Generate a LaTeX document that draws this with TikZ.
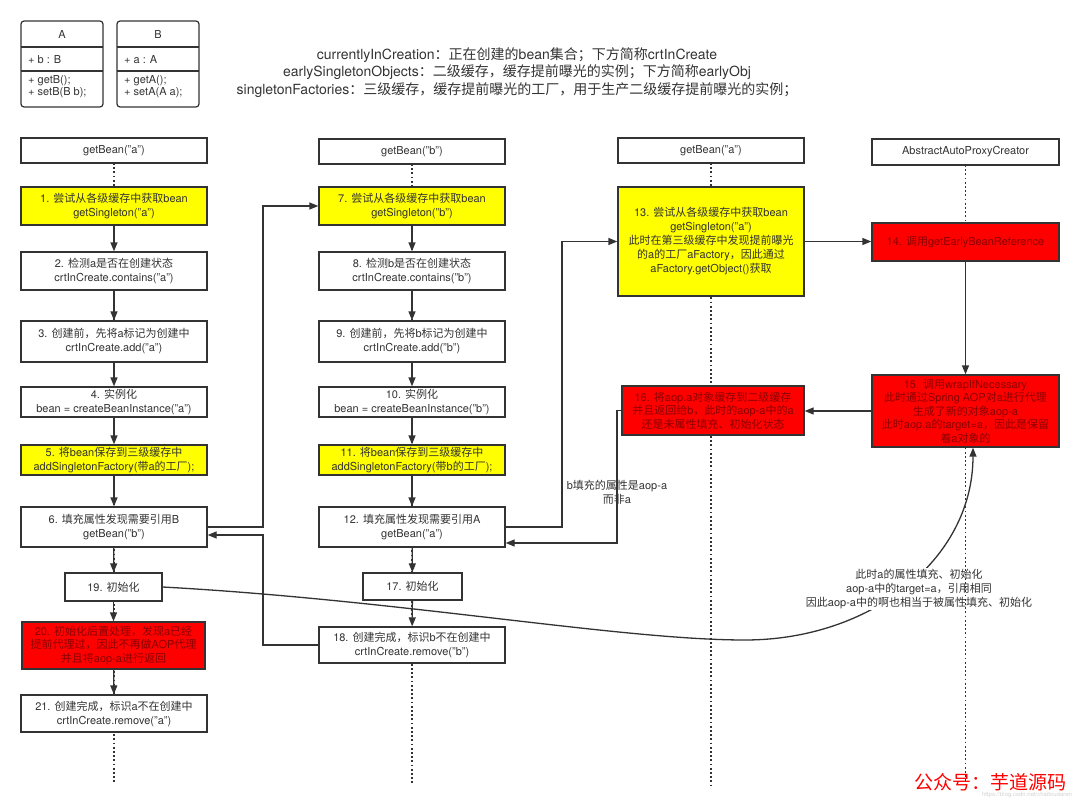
\documentclass[tikz,border=0pt]{standalone}
\usepackage{fontspec}
\setmainfont{TeX Gyre Heros}
\newfontfamily\latinfont{TeX Gyre Heros}
\newfontfamily\cjkfont{Noto Sans CJK SC}
\usetikzlibrary{arrows.meta}
\XeTeXinterchartokenstate=1
\ifdefined\newXeTeXintercharclass
  \newXeTeXintercharclass\cjkcls
\else
  \chardef\cjkcls=10
\fi
\newcount\cjkcnt
\cjkcnt="3000
\loop
  \XeTeXcharclass\cjkcnt=\cjkcls
  \advance\cjkcnt by 1
\ifnum\cjkcnt<"3040 \repeat
\cjkcnt="4E00
\loop
  \XeTeXcharclass\cjkcnt=\cjkcls
  \advance\cjkcnt by 1
\ifnum\cjkcnt<"A000 \repeat
\cjkcnt="FF00
\loop
  \XeTeXcharclass\cjkcnt=\cjkcls
  \advance\cjkcnt by 1
\ifnum\cjkcnt<"FFF0 \repeat
\XeTeXinterchartoks 0 \cjkcls={\cjkfont}
\XeTeXinterchartoks 4095 \cjkcls={\cjkfont}
\XeTeXinterchartoks \cjkcls 0={\latinfont}
\XeTeXinterchartoks \cjkcls 4095={\latinfont}

\definecolor{linec}{HTML}{333333}
\definecolor{txtc}{HTML}{333333}
\definecolor{yel}{HTML}{FFFF00}
\definecolor{redf}{HTML}{FF0000}
\definecolor{redtxt}{HTML}{8A0000}
\newcommand\boxfnt{\fontsize{11}{14}\selectfont}
\newcommand\tightfnt{\fontsize{11}{13.5}\selectfont}
\newcommand\umlfnt{\fontsize{11}{12.5}\selectfont}

\begin{document}
\begin{tikzpicture}[x=1pt,y=-1pt,
  box/.style={draw=linec, line width=1.3pt, fill=white, text=txtc, align=center,
    font=\boxfnt, inner sep=1pt, minimum width=186pt},
  ybox/.style={box, fill=yel},
  rbox/.style={box, fill=redf, text=redtxt},
  arr/.style={draw=linec, line width=1.3pt, -{Triangle[length=9pt,width=7pt]}},
  life/.style={draw=linec, line width=1.4pt, dash pattern=on 1.8pt off 2.4pt},
  lbl/.style={text=txtc, align=center, font=\boxfnt, inner sep=0pt},
  uml/.style={draw=linec, line width=1.2pt}
]
\useasboundingbox (0,0) rectangle (1080,803);

% ---------- UML classes ----------
\draw[uml, rounded corners=3pt] (21,21) rectangle (103,107);
\draw[uml] (21,47) -- (103,47);
\draw[uml] (21,71) -- (103,71);
\node[text=txtc, font=\umlfnt] (Atitle) at (62,34.5) {A};
\node[text=txtc, font=\umlfnt, anchor=west, inner sep=0pt] (Aattr) at (28,60) {+ b : B};
\node[text=txtc, font=\umlfnt, anchor=west, align=left, inner sep=0pt] (Aops) at (28,86.5) {+ getB();\\+ setB(B b);};

\draw[uml, rounded corners=3pt] (117,21) rectangle (199,107);
\draw[uml] (117,47) -- (199,47);
\draw[uml] (117,71) -- (199,71);
\node[text=txtc, font=\umlfnt] (Btitle) at (158,34.5) {B};
\node[text=txtc, font=\umlfnt, anchor=west, inner sep=0pt] (Battr) at (124,60) {+ a : A};
\node[text=txtc, font=\umlfnt, anchor=west, align=left, inner sep=0pt] (Bops) at (124,86.5) {+ getA();\\+ setA(A a);};

% ---------- header text ----------
\node[text=txtc, align=center, font=\fontsize{14}{17.5}\selectfont] (legend) at (517,72.5)
 {currentlyInCreation：正在创建的bean集合；下方简称crtInCreate\\
  earlySingletonObjects：二级缓存，缓存提前曝光的实例；下方简称earlyObj\\
  singletonFactories：三级缓存，缓存提前曝光的工厂，用于生产二级缓存提前曝光的实例；};

% ---------- coordinates for lifeline ends ----------
\coordinate (e1) at (114,782);
\coordinate (e2) at (412,783);
\coordinate (e3) at (711,785);
\coordinate (e4) at (965.5,785);

% ---------- lifelines (behind) ----------
\draw[life] (114,163) -- (e1);
\draw[life] (412,164) -- (e2);
\draw[life] (711,163) -- (e3);
\draw[life] (965.5,165) -- (965.5,223);

% ---------- column 1 ----------
\node[box, minimum height=25pt] (hA) at (114,150.5) {getBean("a")};
\node[ybox, minimum height=38pt] (b1) at (114,206) {1. 尝试从各级缓存中获取bean\\getSingleton("a")};
\node[box, minimum height=38pt] (b2) at (114,271) {2. 检测a是否在创建状态\\crtInCreate.contains("a")};
\node[box, minimum height=41pt] (b3) at (114,341.5) {3. 创建前，先将a标记为创建中\\crtInCreate.add("a")};
\node[box, minimum height=30pt] (b4) at (114,402) {4. 实例化\\bean = createBeanInstance("a")};
\node[ybox, minimum height=30pt] (b5) at (114,460) {5. 将bean保存到三级缓存中\\addSingletonFactory(带a的工厂);};
\node[box, minimum height=40pt] (b6) at (114,527) {6. 填充属性发现需要引用B\\getBean("b")};
\node[box, minimum height=28pt, minimum width=97pt] (b19) at (113.5,587) {19. 初始化};
\node[rbox, minimum height=47pt, minimum width=183pt, font=\tightfnt] (b20) at (113.5,645.5) {20. 初始化后置处理，发现a已经\\提前代理过，因此不再做AOP代理\\并且将aop-a进行返回};
\node[box, minimum height=37pt] (b21) at (114,713.5) {21. 创建完成，标识a不在创建中\\crtInCreate.remove("a")};

% ---------- column 2 ----------
\node[box, minimum height=25pt] (hB) at (412,151.5) {getBean("b")};
\node[ybox, minimum height=38pt] (b7) at (412,206) {7. 尝试从各级缓存中获取bean\\getSingleton("b")};
\node[box, minimum height=38pt] (b8) at (412,271) {8. 检测b是否在创建状态\\crtInCreate.contains("b")};
\node[box, minimum height=41pt] (b9) at (412,341.5) {9. 创建前，先将b标记为创建中\\crtInCreate.add("b")};
\node[box, minimum height=30pt] (b10) at (412,402) {10. 实例化\\bean = createBeanInstance("b")};
\node[ybox, minimum height=30pt] (b11) at (412,460) {11. 将bean保存到三级缓存中\\addSingletonFactory(带b的工厂);};
\node[box, minimum height=40pt] (b12) at (412,527) {12. 填充属性发现需要引用A\\getBean("a")};
\node[box, minimum height=27pt, minimum width=99pt] (b17) at (412.5,586.5) {17. 初始化};
\node[box, minimum height=36pt] (b18) at (412,645) {18. 创建完成，标识b不在创建中\\crtInCreate.remove("b")};

% ---------- column 3 ----------
\node[box, minimum height=25pt] (hA2) at (711,150.5) {getBean("a")};
\node[ybox, minimum height=109pt] (b13) at (711,241.5) {13. 尝试从各级缓存中获取bean\\getSingleton("a")\\此时在第三级缓存中发现提前曝光\\的a的工厂aFactory，因此通过\\aFactory.getObject()获取};
\node[rbox, minimum height=49pt, minimum width=182pt, font=\tightfnt] (b16) at (713,410.5) {16. 将aop.a对象缓存到二级缓存\\并且返回给b，此时的aop-a中的a\\还是未属性填充、初始化状态};

% ---------- column 4 ----------
\node[box, minimum height=26pt, minimum width=187pt] (hP) at (965.5,152) {AbstractAutoProxyCreator};
\node[rbox, minimum height=38pt, minimum width=187pt] (b14) at (965.5,242) {14. 调用getEarlyBeanReference};
\node[rbox, minimum height=72pt, minimum width=187pt, font=\tightfnt] (b15) at (965.5,411) {15. 调用wrapIfNecessary\\此时通过Spring AOP对a进行代理\\生成了新的对象aop-a\\此时aop.a的target=a，因此是保留\\着a对象的};

% ---------- vertical flow arrows ----------
\draw[arr] (b1) -- (b2);
\draw[arr] (b2) -- (b3);
\draw[arr] (b3) -- (b4);
\draw[arr] (b4) -- (b5);
\draw[arr] (b5) -- (b6);
\draw[arr] (b6) -- (b19);
\draw[arr] (b19) -- (b20);
\draw[arr] (b20) -- (b21);
\draw[arr] (b7) -- (b8);
\draw[arr] (b8) -- (b9);
\draw[arr] (b9) -- (b10);
\draw[arr] (b10) -- (b11);
\draw[arr] (b11) -- (b12);
\draw[arr] (b12) -- (b17);
\draw[arr] (b17) -- (b18);
\draw[arr] (b14) -- (b15);

% ---------- cross-column connectors ----------
\coordinate (j1) at (263,527);
\coordinate (j2) at (263,535);
\coordinate (j3) at (562,527);
\coordinate (j4) at (617,543);
\draw[arr] (b6.east) -- (j1) |- (b7.west);
\draw[arr] (b18.west) -| (j2) -- (j2 -| b6.east);
\draw[arr] (b12.east) -- (j3) |- (b13.west);
\draw[arr] (b16.west) -| (j4) -- (j4 -| b12.east);
\draw[arr] (b13.east) -- (b14.west |- b13.east);
\draw[arr] (b15.west) -- (b16.east |- b15.west);
\node[lbl] (lblb) at (617,492) {b填充的属性是aop-a\\而非a};

% ---------- long curve 19 -> 15 ----------
\coordinate (cv) at (745,640);
\draw[arr] (b19.east) .. controls (400,600) and (620,640) .. (cv)
  .. controls (870,640) and (973,560) .. ([xshift=7.5pt]b15.south);
\node[lbl, fill=white, inner sep=1pt] (lblc) at (919,589) {此时a的属性填充、初始化\\aop-a中的target=a，引用相同\\因此aop-a中的啊也相当于被属性填充、初始化};

% lifeline of column 4 below box 15 (over label)
\draw[life] (b15.south) -- (e4);

% ---------- watermark ----------
\node[text=redf, font=\fontsize{19}{20}\selectfont, inner sep=0pt] (wm) at (990,782) {公众号：芋道源码};
\node[text=black!18, font=\fontsize{6}{7}\selectfont, inner sep=0pt] (wm2) at (1027,795) {https://blog.csdn.net/chaitoudaren};
\end{tikzpicture}
\end{document}
